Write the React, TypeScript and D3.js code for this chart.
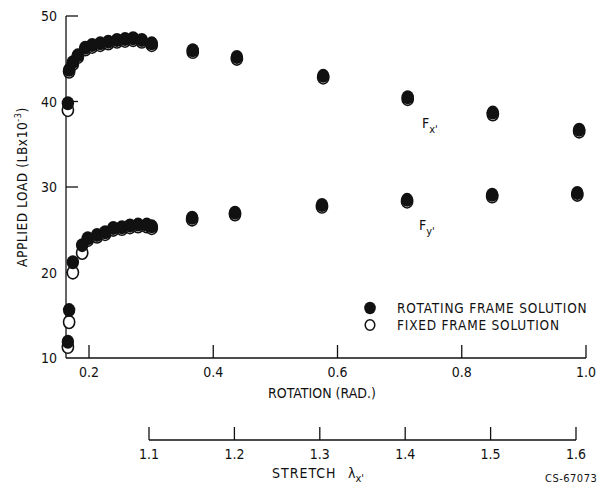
import React from 'react';
import * as d3 from 'd3';

// rotation (rad) for each measured point
const fxRotation = [0.166, 0.168, 0.174, 0.182, 0.194, 0.205, 0.218, 0.231, 0.245, 0.258, 0.271, 0.285, 0.301, 0.367, 0.438, 0.577, 0.713, 0.85, 0.989];
const fxRotating = [39.8, 43.7, 44.6, 45.4, 46.3, 46.6, 46.8, 47.0, 47.2, 47.3, 47.4, 47.2, 46.8, 46.0, 45.2, 43.0, 40.5, 38.7, 36.7];
const fxFixed = [39.0, 43.5, 44.4, 45.2, 46.1, 46.4, 46.6, 46.8, 47.0, 47.1, 47.2, 47.0, 46.6, 45.8, 45.0, 42.8, 40.3, 38.5, 36.5];

const fyRotation = [0.166, 0.168, 0.174, 0.189, 0.198, 0.213, 0.226, 0.239, 0.253, 0.266, 0.279, 0.293, 0.301, 0.366, 0.435, 0.575, 0.712, 0.849, 0.986];
const fyRotating = [11.9, 15.6, 21.2, 23.2, 24.0, 24.4, 24.7, 25.2, 25.3, 25.5, 25.6, 25.6, 25.4, 26.4, 27.0, 27.9, 28.5, 29.1, 29.3];
const fyFixed = [11.3, 14.2, 20.0, 22.3, 23.8, 24.2, 24.5, 25.0, 25.1, 25.3, 25.4, 25.4, 25.2, 26.2, 26.8, 27.7, 28.3, 28.9, 29.1];

const rotationTicks = [0.2, 0.4, 0.6, 0.8, 1.0];
const loadTicks = [10, 20, 30, 40, 50];
const stretchTicks = [1.1, 1.2, 1.3, 1.4, 1.5, 1.6];

const font = '"DejaVu Sans Condensed", "DejaVu Sans", sans-serif';
const ink = '#111';

export default function App() {
  const x = d3.scaleLinear().domain([0.2, 1.0]).range([89, 586]);
  const y = d3.scaleLinear().domain([10, 50]).range([358, 16]);
  const s = d3.scaleLinear().domain([1.1, 1.6]).range([149, 576]);
  const x0 = x(0.163);

  const open = (rs: number[], vs: number[], key: string) =>
    rs.map((r, i) => (
      <ellipse key={key + i} cx={x(r)} cy={y(vs[i])} rx={5.6} ry={6.4}
        fill="#fff" stroke={ink} strokeWidth={1.6} />
    ));
  const filled = (rs: number[], vs: number[], key: string) =>
    rs.map((r, i) => (
      <ellipse key={key + i} cx={x(r)} cy={y(vs[i])} rx={6.2} ry={7} fill={ink} />
    ));

  return (
    <svg width={606} height={488} style={{ position: 'absolute', left: 0, top: 0, background: '#fff' }}
      fontFamily={font} fill={ink}>
      {/* load axis */}
      <line x1={x0} x2={x0} y1={y(50)} y2={y(10)} stroke={ink} strokeWidth={1.3} />
      {loadTicks.map(t => (
        <g key={'ly' + t}>
          {t > 10 && <line x1={x0} x2={x0 + 12} y1={y(t)} y2={y(t)} stroke={ink} strokeWidth={1.3} />}
          <text x={57} y={y(t)} dy="0.36em" textAnchor="end" fontSize={14}>{t}</text>
        </g>
      ))}
      <text transform={`translate(27,187) rotate(-90)`} textAnchor="middle" fontSize={13.5} letterSpacing={0.6}>
        APPLIED LOAD (LBx10<tspan dy={-6} fontSize={9}>-3</tspan><tspan dy={6}>)</tspan>
      </text>

      {/* rotation axis */}
      <line x1={x0} x2={x(1.0)} y1={y(10)} y2={y(10)} stroke={ink} strokeWidth={1.3} />
      {rotationTicks.map(t => (
        <g key={'rx' + t}>
          <line x1={x(t)} x2={x(t)} y1={y(10)} y2={y(10) - 13} stroke={ink} strokeWidth={1.3} />
          <text x={x(t)} y={372} dy="0.36em" textAnchor="middle" fontSize={14}>{d3.format('.1f')(t)}</text>
        </g>
      ))}
      <text x={322} y={393} dy="0.36em" textAnchor="middle" fontSize={14}>ROTATION (RAD.)</text>

      {/* stretch axis */}
      <line x1={s(1.1)} x2={s(1.6)} y1={440} y2={440} stroke={ink} strokeWidth={1.3} />
      {stretchTicks.map(t => (
        <g key={'sx' + t}>
          <line x1={s(t)} x2={s(t)} y1={440} y2={427} stroke={ink} strokeWidth={1.3} />
          <text x={s(t)} y={454} dy="0.36em" textAnchor="middle" fontSize={14}>{d3.format('.1f')(t)}</text>
        </g>
      ))}
      <text x={272} y={473} dy="0.36em" fontSize={14} letterSpacing={1}>STRETCH</text>
      <text x={348} y={473} dy="0.36em" fontSize={14}>λ<tspan dy={4} fontSize={11}>x'</tspan></text>
      <text x={545} y={478} dy="0.36em" fontSize={11} letterSpacing={0.5}>CS-67073</text>

      {/* markers */}
      {open(fxRotation, fxFixed, 'fxo')}
      {filled(fxRotation, fxRotating, 'fxf')}
      {open(fyRotation, fyFixed, 'fyo')}
      {filled(fyRotation, fyRotating, 'fyf')}

      {/* curve labels */}
      <text x={422} y={123} dy="0.36em" fontSize={14}>F<tspan dy={5} fontSize={11}>x'</tspan></text>
      <text x={419} y={225} dy="0.36em" fontSize={14}>F<tspan dy={5} fontSize={11}>y'</tspan></text>

      {/* legend */}
      <ellipse cx={370} cy={308} rx={5.8} ry={6.2} fill={ink} />
      <ellipse cx={370} cy={325} rx={4.8} ry={5.2} fill="#fff" stroke={ink} strokeWidth={1.5} />
      <text x={397} y={308} dy="0.36em" fontSize={13.5} letterSpacing={0.8}>ROTATING FRAME SOLUTION</text>
      <text x={397} y={325} dy="0.36em" fontSize={13.5} letterSpacing={0.8}>FIXED FRAME SOLUTION</text>
    </svg>
  );
}
